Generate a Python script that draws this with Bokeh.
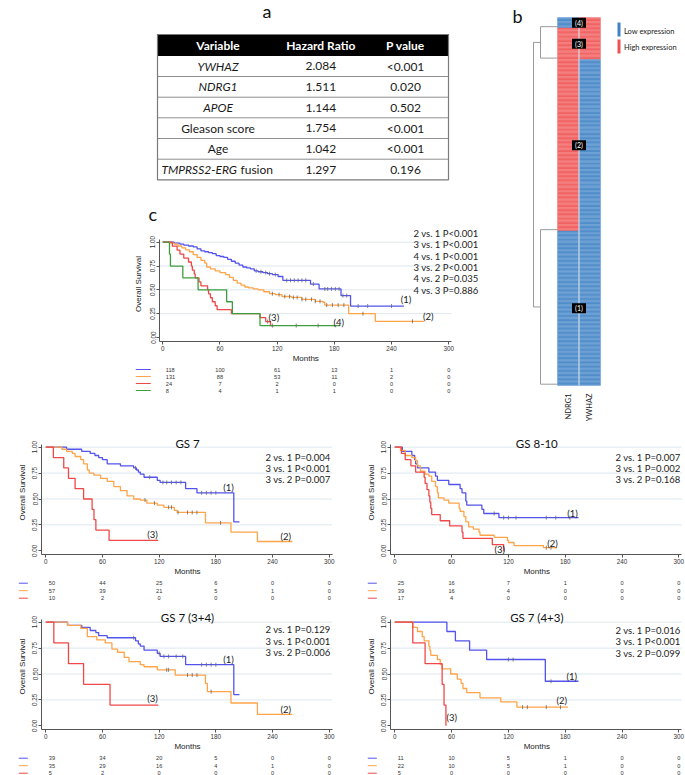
import numpy as np
from bokeh.plotting import figure
from bokeh.models import Range1d, FixedTicker, PrintfTickFormatter, Label
from bokeh.layouts import column, row
from bokeh.core.properties import value
from bokeh.embed import file_html
from bokeh.resources import INLINE

# ======================= DATA =======================
TABLE_HEADER = ["Variable", "Hazard Ratio", "P value"]
TABLE_VARIABLES = ["YWHAZ", "NDRG1", "APOE", "Gleason score", "Age", "TMPRSS2-ERG"]
TABLE_SUFFIX = ["", "", "", "", "", "fusion"]
TABLE_ITALIC = [True, True, True, False, False, True]
TABLE_HR = ["2.084", "1.511", "1.144", "1.754", "1.042", "1.297"]
TABLE_P = ["<0.001", "0.020", "0.502", "<0.001", "<0.001", "0.196"]

HEAT_GROUPS = ["(4)", "(3)", "(2)", "(1)"]
HEAT_SIZES = [8, 24, 131, 118]
HEAT_NDRG1_HIGH = [0, 1, 1, 0]
HEAT_YWHAZ_HIGH = [1, 1, 0, 0]
HEAT_GENES = ["NDRG1", "YWHAZ"]
HEAT_LEGEND = ["Low expression", "High expression"]

MONTH_TICKS = [0, 60, 120, 180, 240, 300]
SURV_TICKS = [0.0, 0.25, 0.5, 0.75, 1.0]

# ---- panel c (all patients, 4 groups)
C1_T = [0, 12, 18, 22, 27, 32, 36, 40, 44, 48, 52, 56, 60, 64, 68, 72, 76, 80, 84, 88, 92, 96, 100, 105, 110, 115, 121, 126, 155, 164, 187, 197]
C1_S = [1, .99, .98, .97, .96, .95, .93, .91, .90, .89, .88, .86, .85, .84, .82, .80, .78, .76, .74, .73, .72, .70, .69, .68, .67, .66, .64, .60, .56, .51, .44, .33]
C1_END = 253
C1_CENS = [98, 103, 108, 112, 118, 130, 134, 138, 142, 146, 150, 158, 170, 173, 177, 181, 185, 189, 193, 205, 215, 240]
C2_T = [0, 8, 12, 16, 20, 24, 28, 32, 36, 40, 44, 46, 50, 55, 60, 66, 70, 74, 78, 82, 86, 90, 95, 100, 106, 112, 118, 125, 135, 146, 160, 168, 170, 195, 223]
C2_S = [1, .99, .98, .96, .94, .92, .90, .87, .84, .81, .78, .74, .72, .70, .68, .66, .63, .60, .57, .55, .53, .52, .51, .50, .48, .46, .45, .43, .42, .40, .38, .37, .34, .25, .17]
C2_END = 274
C2_CENS = [115, 122, 128, 133, 137, 141, 146, 150, 156, 160, 165, 172, 178, 184, 190, 210, 262]
C3_T = [0, 10, 15, 18, 22, 27, 30, 31, 33, 34, 38, 40, 47, 48, 50, 52, 55, 57, 72, 102, 108, 113]
C3_S = [1, .958, .917, .875, .833, .792, .75, .708, .667, .625, .583, .542, .5, .458, .417, .375, .333, .292, .25, .208, .167, .125]
C3_END = 117
C3_CENS = [110]
C4_T = [0, 7, 8, 21, 37, 67, 73, 102]
C4_S = [1, .875, .75, .625, .5, .375, .25, .125]
C4_END = 186
C4_CENS = [115, 140, 163]
C_RISK = [[118, 100, 61, 13, 1, 0], [131, 88, 53, 11, 2, 0], [24, 7, 2, 0, 0, 0], [8, 4, 1, 1, 0, 0]]
C_PVALS = ["2 vs. 1 P<0.001", "3 vs. 1 P<0.001", "4 vs. 1 P<0.001", "3 vs. 2 P<0.001", "4 vs. 2 P=0.035", "4 vs. 3 P=0.886"]

# ---- panel d (GS 7)
D1_T = [0, 22, 38, 47, 52, 56, 60, 65, 79, 93, 96, 98, 100, 104, 118, 121, 148, 160, 199]
D1_S = [1, .98, .96, .94, .92, .90, .88, .84, .82, .80, .78, .76, .74, .71, .68, .66, .60, .56, .28]
D1_END = 205
D1_CENS = [95, 110, 124, 128, 133, 138, 143, 165, 170, 175, 180]
D2_T = [0, 17, 22, 28, 31, 37, 40, 44, 46, 51, 58, 65, 72, 79, 86, 93, 100, 107, 118, 125, 136, 139, 169, 196, 224]
D2_S = [1, .98, .96, .94, .91, .88, .84, .78, .75, .73, .70, .67, .62, .58, .53, .50, .49, .46, .44, .42, .39, .37, .27, .18, .09]
D2_END = 261
D2_CENS = [105, 115, 130, 133, 140, 150, 155, 160, 185]
D3_T = [0, 8, 19, 24, 31, 40, 49, 51, 53, 67]
D3_S = [1, .9, .8, .7, .6, .5, .4, .3, .2, .1]
D3_END = 119
D3_CENS = []
D_RISK = [[50, 44, 25, 6, 0, 0], [57, 39, 21, 5, 1, 0], [10, 2, 0, 0, 0, 0]]
D_PVALS = ["2 vs. 1 P=0.004", "3 vs. 1 P<0.001", "3 vs. 2 P=0.007"]

# ---- panel e (GS 8-10)
E1_T = [0, 8, 18, 21, 22, 24, 36, 43, 45, 57, 69, 71, 75, 76, 92, 94, 110]
E1_S = [1, .96, .92, .88, .84, .80, .76, .72, .68, .64, .60, .56, .48, .44, .40, .36, .32]
E1_END = 194
E1_CENS = [105, 115, 120, 128, 160, 170, 185]
E2_T = [0, 6, 11, 18, 22, 24, 27, 32, 36, 39, 43, 45, 46, 52, 57, 68, 69, 73, 75, 78, 83, 89, 90, 105, 119, 120, 126, 157]
E2_S = [1, .97, .92, .90, .87, .82, .77, .74, .72, .67, .62, .56, .51, .49, .46, .41, .38, .33, .28, .23, .21, .18, .15, .13, .10, .08, .05, .03]
E2_END = 171
E2_CENS = [160, 165]
E3_T = [0, 7, 11, 17, 22, 31, 32, 34, 36, 37, 38, 39, 48, 58, 71, 72, 103, 115]
E3_S = [1, .94, .88, .82, .76, .71, .65, .59, .53, .47, .41, .35, .29, .24, .18, .12, .06, 0]
E3_END = 116
E3_CENS = []
E_RISK = [[25, 16, 7, 1, 0, 0], [39, 16, 4, 0, 0, 0], [17, 4, 0, 0, 0, 0]]
E_PVALS = ["2 vs. 1 P=0.007", "3 vs. 1 P=0.002", "3 vs. 2 P=0.168"]

# ---- panel f (GS 7 (3+4))
F1_T = [0, 23, 38, 47, 53, 56, 65, 95, 98, 100, 104, 118, 121, 148, 199]
F1_S = [1, .97, .95, .92, .90, .87, .85, .82, .79, .77, .73, .70, .67, .59, .30]
F1_END = 205
F1_CENS = [93, 120, 125, 130, 138, 145, 165, 170, 175, 180]
F2_T = [0, 23, 37, 44, 54, 63, 70, 76, 83, 88, 100, 104, 118, 137, 169, 171, 196, 224]
F2_S = [1, .97, .94, .86, .83, .80, .74, .71, .66, .62, .59, .57, .54, .49, .41, .33, .22, .11]
F2_END = 261
F2_CENS = [128, 130, 150, 155, 160, 175]
F3_T = [0, 8.5, 24, 40, 68]
F3_S = [1, .8, .6, .4, .2]
F3_END = 119
F3_CENS = []
F_RISK = [[39, 34, 20, 5, 0, 0], [35, 29, 16, 4, 1, 0], [5, 2, 0, 0, 0, 0]]
F_PVALS = ["2 vs. 1 P=0.129", "3 vs. 1 P<0.001", "3 vs. 2 P=0.006"]

# ---- panel g (GS 7 (4+3))
G1_T = [0, 55, 64, 79, 97, 159]
G1_S = [1, .91, .82, .73, .64, .43]
G1_END = 194
G1_CENS = [120, 125, 165]
G2_T = [0, 19, 24, 29, 31, 36, 37, 38, 45, 48, 50, 59, 66, 70, 72, 76, 90, 112, 129]
G2_S = [1, .95, .91, .86, .82, .77, .73, .68, .64, .59, .55, .50, .45, .41, .36, .32, .27, .23, .18]
G2_END = 183
G2_CENS = [135, 140, 160, 175]
G3_T = [0, 19, 32, 50, 52, 54]
G3_S = [1, .8, .6, .4, .2, 0]
G3_END = 54
G3_CENS = []
G_RISK = [[11, 10, 5, 1, 0, 0], [22, 10, 5, 1, 0, 0], [5, 0, 0, 0, 0, 0]]
G_PVALS = ["2 vs. 1 P=0.016", "3 vs. 1 P<0.001", "3 vs. 2 P=0.099"]

# ======================= STYLE =======================
BLUE, ORANGE, RED, GREEN = "#5353EE", "#FFA448", "#F04848", "#3E9E3E"
HEAT_BLUE, HEAT_BLUE_L = "#3F82C4", "#79A8D8"
HEAT_RED, HEAT_RED_L = "#F05252", "#F78B8B"
TXT_FONT = value("Lato")
AX_FONT = value("Liberation Sans")


def base_fig(w, h, xr, yr, **kw):
    p = figure(width=w, height=h, x_range=xr, y_range=yr, output_backend="svg",
               toolbar_location=None, title=None, frame_align=False, **kw)
    p.outline_line_color = None
    p.background_fill_color = "white"
    p.border_fill_color = "white"
    return p


def plain_fig(w, h, xr, yr):
    p = base_fig(w, h, xr, yr, x_axis_location=None, y_axis_location=None,
                 min_border_left=0, min_border_right=0, min_border_top=0, min_border_bottom=0)
    p.grid.visible = False
    return p


def surv_at(t, s, times):
    t = np.asarray(t, float)
    s = np.asarray(s, float)
    idx = np.searchsorted(t, np.asarray(times, float), side="right") - 1
    return s[idx].tolist()


# ======================= PANEL a : table =======================
def table_panel():
    p = plain_fig(500, 226, Range1d(0, 500), Range1d(226, 0))
    left, right = 157, 448
    bounds = [34, 55, 76, 96.7, 117.3, 138, 158.7, 179.3]
    centers = [217.5, 320.3, 405]
    fs = "12px"
    p.quad(left=[left], right=[right], top=[bounds[0]], bottom=[bounds[1]],
           fill_color="black", line_color="black")
    p.segment(x0=[left] * 5, x1=[right] * 5, y0=bounds[2:-1], y1=bounds[2:-1],
              line_color="#8f8f8f", line_width=1)
    p.quad(left=[left], right=[right], top=[bounds[0]], bottom=[bounds[-1]],
           fill_color=None, line_color="#7a7a7a", line_width=1.2)
    hy = (bounds[0] + bounds[1]) / 2
    p.text(x=centers, y=[hy] * 3, text=TABLE_HEADER, text_font=TXT_FONT,
           text_font_size=fs, text_font_style="bold", text_color="white",
           text_align="center", text_baseline="middle")
    ycs = [(bounds[i] + bounds[i + 1]) / 2 for i in range(1, 7)]
    for i, (v, suf, it) in enumerate(zip(TABLE_VARIABLES, TABLE_SUFFIX, TABLE_ITALIC)):
        style = "italic" if it else "normal"
        if suf:
            p.text(x=[236.5], y=[ycs[i]], text=[v], text_font=TXT_FONT, text_font_size=fs,
                   text_font_style=style, text_color="#1a1a1a", text_align="right", text_baseline="middle")
            p.text(x=[240], y=[ycs[i]], text=[suf], text_font=TXT_FONT, text_font_size=fs,
                   text_color="#1a1a1a", text_align="left", text_baseline="middle")
        else:
            p.text(x=[centers[0]], y=[ycs[i]], text=[v], text_font=TXT_FONT, text_font_size=fs,
                   text_font_style=style, text_color="#1a1a1a", text_align="center", text_baseline="middle")
    p.text(x=[centers[1]] * 6, y=ycs, text=TABLE_HR, text_font=TXT_FONT, text_font_size=fs,
           text_color="#1a1a1a", text_align="center", text_baseline="middle")
    p.text(x=[centers[2]] * 6, y=ycs, text=TABLE_P, text_font=TXT_FONT, text_font_size=fs,
           text_color="#1a1a1a", text_align="center", text_baseline="middle")
    p.text(x=[262, 148], y=[10, 213], text=["a", "c"], text_font=TXT_FONT, text_font_size="18px",
           text_color="#111111", text_align="left", text_baseline="middle")
    return p


# ======================= PANEL b : heatmap =======================
def heat_panel():
    HX0, HCW, HY0 = 557.0, 21.5, 17.0
    HRH = 368.0 / sum(HEAT_SIZES)
    bx = lambda px: (px - HX0) / HCW
    by = lambda py: (py - HY0) / HRH
    p = plain_fig(185, 430, Range1d(bx(500), bx(685)), Range1d(by(430), by(0)))
    xs, ys, fc, lc = [], [], [], []
    start = 0
    starts = []
    for g, n in enumerate(HEAT_SIZES):
        starts.append(start)
        for k in range(n):
            for c, high in enumerate([HEAT_NDRG1_HIGH[g], HEAT_YWHAZ_HIGH[g]]):
                xs.append(c + 0.5)
                ys.append(start + k + 0.5)
                fc.append(HEAT_RED if high else HEAT_BLUE)
                lc.append(HEAT_RED_L if high else HEAT_BLUE_L)
        start += n
    total = start
    p.rect(x=xs, y=ys, width=1, height=1, fill_color=fc, line_color=lc, line_width=0.45)
    p.segment(x0=[1], x1=[1], y0=[0], y1=[total], line_color="#dde6ef", line_width=1)
    # dendrogram
    ends = [s + n - 1 for s, n in zip(starts, HEAT_SIZES)]
    xl1, xl2 = bx(540), bx(533)
    m_top = (ends[0] + ends[1]) / 2
    m_bot = (ends[2] + ends[3]) / 2
    x0s = [xl1, xl1, xl1, xl1, xl1, xl1, xl2, xl2, xl2]
    x1s = [0, 0, xl1, 0, 0, xl1, xl1, xl1, xl2]
    y0s = [ends[0], ends[1], ends[0], ends[2], ends[3], ends[2], m_top, m_bot, m_top]
    y1s = [ends[0], ends[1], ends[1], ends[2], ends[3], ends[3], m_top, m_bot, m_bot]
    p.segment(x0=x0s, x1=x1s, y0=y0s, y1=y1s, line_color="#9a9a9a", line_width=1)
    # group boxes
    gcy = [s + n / 2 for s, n in zip(starts, HEAT_SIZES)]
    p.rect(x=[1] * 4, y=gcy, width=14, height=10, width_units="screen", height_units="screen",
           fill_color="black", line_color=None)
    p.text(x=[1] * 4, y=gcy, text=HEAT_GROUPS, text_font=TXT_FONT, text_font_size="7px",
           text_color="white", text_align="center", text_baseline="middle")
    # column labels
    p.text(x=[0.5, 1.5], y=[by(393)] * 2, text=HEAT_GENES, angle=np.pi / 2, text_font=TXT_FONT,
           text_font_size="7.5px", text_color="#222222", text_align="right", text_baseline="middle")
    # legend
    p.quad(left=[bx(617)] * 2, right=[bx(620)] * 2, top=[by(22), by(39)], bottom=[by(36), by(53)],
           fill_color=[HEAT_BLUE, HEAT_RED], line_color=None)
    p.text(x=[bx(623.5)] * 2, y=[by(30.5), by(46.5)], text=HEAT_LEGEND, text_font=TXT_FONT,
           text_font_size="7.5px", text_color="#222222", text_align="left", text_baseline="middle")
    p.text(x=[bx(512)], y=[by(15)], text=["b"], text_font=TXT_FONT, text_font_size="18px",
           text_color="#111111", text_align="left", text_baseline="alphabetic")
    return p


# ======================= KM panels =======================
def km_panel(g, curves, colors, title, title_px, pvals, pval_right_px, pval_top_px,
             labels, letter, letter_px, ylab_standoff):
    xs = (g["frame_left"] - g["x0px"]) / g["pxmo"]
    xe = (g["fig_right"] - g["x0px"]) / g["pxmo"]
    ye = (g["y0px"] - g["fig_top"]) / g["pxu"]
    ys = (g["y0px"] - g["axis_px"]) / g["pxu"]
    p = base_fig(g["fig_right"] - g["fig_left"], g["fig_bottom"] - g["fig_top"],
                 Range1d(xs, xe), Range1d(ys, ye),
                 min_border_left=g["frame_left"] - g["fig_left"], min_border_right=0,
                 min_border_top=0, min_border_bottom=g["fig_bottom"] - g["axis_px"])
    p.grid.visible = False
    xa, ya = p.xaxis[0], p.yaxis[0]
    xa.ticker = FixedTicker(ticks=MONTH_TICKS)
    ya.ticker = FixedTicker(ticks=SURV_TICKS)
    ya.formatter = PrintfTickFormatter(format="%.2f")
    xa.bounds = (xs, 303)
    ya.bounds = (ys, 1.03)
    for ax in (xa, ya):
        ax.axis_line_color = "#555555"
        ax.major_tick_line_color = "#555555"
        ax.minor_tick_line_color = None
        ax.major_tick_in = 0
        ax.major_tick_out = 3
        ax.major_label_standoff = 1
        ax.major_label_text_font = "Liberation Sans"
        ax.major_label_text_font_size = "6.3px"
        ax.major_label_text_color = "#333333"
    ya.major_label_orientation = "vertical"
    ya.axis_label = "Overall Survival"
    ya.axis_label_text_font = "Liberation Sans"
    ya.axis_label_text_font_size = "8px"
    ya.axis_label_text_font_style = "normal"
    ya.axis_label_text_color = "#222222"
    ya.axis_label_standoff = ylab_standoff
    # grid lines
    gl = SURV_TICKS[1:]
    p.segment(x0=[xs] * len(gl), x1=[303] * len(gl), y0=gl, y1=gl, line_color="#DCE7EF", line_width=1)
    # curves
    for (t, s, end, cens), col in zip(curves, colors):
        p.step(x=list(t) + [end], y=list(s) + [s[-1]], mode="after", line_color=col, line_width=1.3)
        if cens:
            p.scatter(x=cens, y=surv_at(t, s, cens), marker="dash", angle=np.pi / 2, size=4,
                      line_color="#666666", line_width=0.8)
    # curve labels
    p.text(x=[l[0] for l in labels], y=[l[1] for l in labels], text=["(1)", "(2)", "(3)", "(4)"][:len(labels)],
           text_font=TXT_FONT, text_font_size="9.5px", text_color="#222222",
           text_align="left", text_baseline="middle")
    # title
    if title:
        p.text(x=[150], y=[(g["y0px"] - title_px) / g["pxu"]], text=[title], text_font=TXT_FONT,
               text_font_size="11.5px", text_color="#111111", text_align="center", text_baseline="middle")
    # p values
    px_x = (pval_right_px - g["x0px"]) / g["pxmo"]
    pys = [(g["y0px"] - (pval_top_px + i * 11.3)) / g["pxu"] for i in range(len(pvals))]
    p.text(x=[px_x] * len(pvals), y=pys, text=pvals, text_font=TXT_FONT, text_font_size="9.5px",
           text_color="#222222", text_align="right", text_baseline="middle")
    if letter:
        p.add_layout(Label(x=(letter_px[0] - g["x0px"]) / g["pxmo"], y=(g["y0px"] - letter_px[1]) / g["pxu"],
                           text=letter, text_font="Lato", text_font_size="18px", text_color="#111111",
                           text_align="left", text_baseline="alphabetic"))
    return p


def risk_panel(g, r, rows, colors, seg):
    xs = (g["fig_left"] - g["x0px"]) / g["pxmo"]
    xe = (g["fig_right"] - g["x0px"]) / g["pxmo"]
    yt = (r["top"] - r["row0"]) / r["step"]
    yb = (r["bottom"] - r["row0"]) / r["step"]
    p = plain_fig(g["fig_right"] - g["fig_left"], r["bottom"] - r["top"], Range1d(xs, xe), Range1d(yb, yt))
    p.text(x=[150], y=[(r["months"] - r["row0"]) / r["step"]], text=["Months"], text_font=AX_FONT,
           text_font_size="8px", text_color="#222222", text_align="center", text_baseline="middle")
    n = len(rows)
    p.segment(x0=[-seg[0] / g["pxmo"]] * n, x1=[-seg[1] / g["pxmo"]] * n, y0=list(range(n)), y1=list(range(n)),
              line_color=colors[:n], line_width=1)
    for i, vals in enumerate(rows):
        p.text(x=[MONTH_TICKS[0]], y=[i], text=[str(vals[0])], x_offset=3, text_font=AX_FONT,
               text_font_size="5.6px", text_color="#333333", text_align="left", text_baseline="middle")
        p.text(x=MONTH_TICKS[1:], y=[i] * 5, text=[str(v) for v in vals[1:]], text_font=AX_FONT,
               text_font_size="5.6px", text_color="#333333", text_align="center", text_baseline="middle")
    return p


GEOM_C = dict(fig_left=0, fig_right=500, frame_left=159, x0px=162.3, pxmo=0.953,
              fig_top=226, axis_px=341, fig_bottom=353, y0px=337.0, pxu=95.3)
GEOM_D = dict(fig_left=0, fig_right=340, frame_left=41, x0px=45.3, pxmo=0.9447,
              fig_top=430, axis_px=554, fig_bottom=566, y0px=550.3, pxu=103.6)
GEOM_E = dict(fig_left=340, fig_right=685, frame_left=390, x0px=394.3, pxmo=0.9467,
              fig_top=430, axis_px=554, fig_bottom=566, y0px=550.3, pxu=103.6)
GEOM_F = dict(GEOM_D, fig_top=603, axis_px=729, fig_bottom=741, y0px=725.3)
GEOM_G = dict(GEOM_E, fig_top=603, axis_px=729, fig_bottom=741, y0px=725.3)
RISK_C = dict(top=353, bottom=430, row0=369.0, step=7.0, months=357.7)
RISK_DE = dict(top=566, bottom=603, row0=582.7, step=7.5, months=570.7)
RISK_FG = dict(top=741, bottom=775, row0=757.7, step=7.5, months=745.7)

COL4 = [BLUE, ORANGE, RED, GREEN]

fa = table_panel()
fb = heat_panel()
fc = km_panel(GEOM_C,
              [(C1_T, C1_S, C1_END, C1_CENS), (C2_T, C2_S, C2_END, C2_CENS),
               (C3_T, C3_S, C3_END, C3_CENS), (C4_T, C4_S, C4_END, C4_CENS)],
              COL4, None, 0, C_PVALS, 478, 233,
              [(249.6, 0.40), (273, 0.22), (111, 0.213), (179, 0.16)], None, None, 5)
fcr = risk_panel(GEOM_C, RISK_C, C_RISK, COL4, (27, 12))

fd = km_panel(GEOM_D, [(D1_T, D1_S, D1_END, D1_CENS), (D2_T, D2_S, D2_END, D2_CENS), (D3_T, D3_S, D3_END, D3_CENS)],
              COL4, "GS 7", 442.7, D_PVALS, 330, 456.7,
              [(187.8, 0.614), (248.4, 0.134), (107.3, 0.154)], "d", (2, 449), 3)
fdr = risk_panel(GEOM_D, RISK_DE, D_RISK, COL4, (27, 18))
fe = km_panel(GEOM_E, [(E1_T, E1_S, E1_END, E1_CENS), (E2_T, E2_S, E2_END, E2_CENS), (E3_T, E3_S, E3_END, E3_CENS)],
              COL4, "GS 8-10", 443, E_PVALS, 680, 456.7,
              [(182.1, 0.357), (161, 0.073), (105.3, 0.01)], "e", (348, 449), 3)
fer = risk_panel(GEOM_E, RISK_DE, E_RISK, COL4, (27, 18))
ff = km_panel(GEOM_F, [(F1_T, F1_S, F1_END, F1_CENS), (F2_T, F2_S, F2_END, F2_CENS), (F3_T, F3_S, F3_END, F3_CENS)],
              COL4, "GS 7 (3+4)", 616.7, F_PVALS, 330, 629.3,
              [(187.8, 0.643), (248.4, 0.154), (107.3, 0.261)], "f", (3, 623), 3)
ffr = risk_panel(GEOM_F, RISK_FG, F_RISK, COL4, (27, 18))
fg = km_panel(GEOM_G, [(G1_T, G1_S, G1_END, G1_CENS), (G2_T, G2_S, G2_END, G2_CENS), (G3_T, G3_S, G3_END, G3_CENS)],
              COL4, "GS 7 (4+3)", 617, G_PVALS, 680, 630,
              [(181.4, 0.476), (170.8, 0.244), (54.6, 0.083)], "g", (348, 623), 3)
fgr = risk_panel(GEOM_G, RISK_FG, G_RISK, COL4, (27, 18))

layout = column(
    row(column(fa, fc, fcr), fb),
    row(column(fd, fdr), column(fe, fer)),
    row(column(ff, ffr), column(fg, fgr)),
)

open("out.html", "w").write(file_html(layout, INLINE))
